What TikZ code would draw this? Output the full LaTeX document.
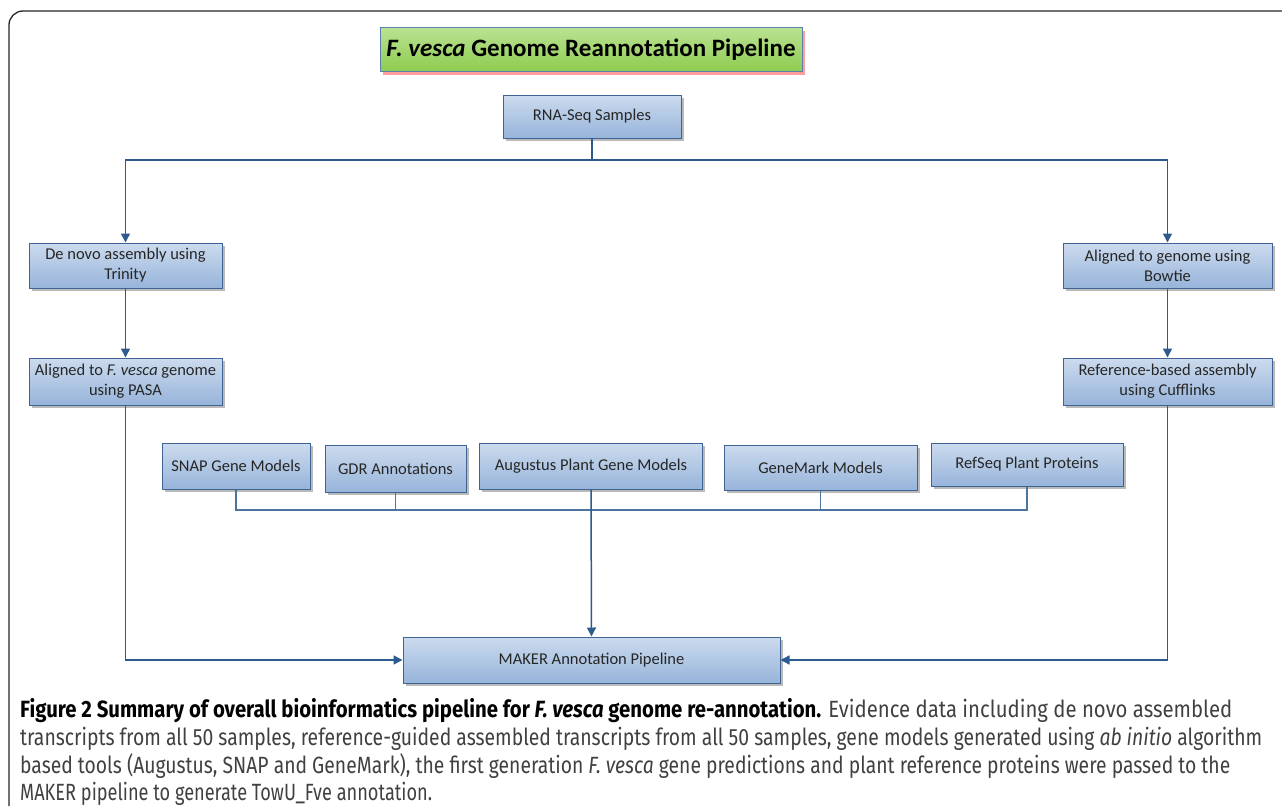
\documentclass[tikz,border=0pt]{standalone}
\usepackage{fontspec}
\setmainfont{Carlito}
\newfontfamily\capfont{Fira Sans}
\usetikzlibrary{arrows.meta,shadows}
\definecolor{boxtop}{HTML}{CCDBEE}
\definecolor{boxbot}{HTML}{97B4DA}
\definecolor{boxedge}{HTML}{3F6494}
\definecolor{conn}{HTML}{2E5B8E}
\definecolor{greentop}{HTML}{B9E291}
\definecolor{greenbot}{HTML}{8ECB4E}
\definecolor{titleedge}{HTML}{5B7FB3}
\definecolor{boxtext}{HTML}{262626}
\definecolor{captext}{HTML}{404040}
\tikzset{
  stepbox/.style={draw=boxedge, line width=1pt, top color=boxtop, bottom color=boxbot,
    drop shadow={shadow xshift=2.5pt, shadow yshift=-2.5pt, fill=black!45, opacity=0.6},
    text=boxtext, align=center, inner sep=2pt,
    font=\fontsize{16.5}{20}\selectfont},
  titlebox/.style={draw=titleedge, line width=1pt, top color=greentop, bottom color=greenbot,
    drop shadow={shadow xshift=3pt, shadow yshift=-3pt, fill=red!55, opacity=0.7},
    text=black, align=center, font=\fontsize{25}{28}\selectfont\bfseries},
  arr/.style={draw=conn, line width=1.5pt, -{Triangle[length=9pt,width=9pt]}},
  bus/.style={draw=conn!85, line width=1.1pt},
  capline/.style={anchor=west, inner sep=0pt, text=captext, font=\capfont\fontsize{23.5}{26}\selectfont}
}
\begin{document}
\begin{tikzpicture}[x=1pt,y=-1pt]
\useasboundingbox (0,0) rectangle (1282,808);
\draw[line width=1.3pt, black!85, rounded corners=14pt] (1282,11) -- (9,11) -- (9,806);

\node[titlebox, minimum width=422pt, minimum height=44pt] (title) at (591,50) {\textit{F. vesca} Genome Reannotation Pipeline};

\node[stepbox, minimum width=178pt, minimum height=43pt] (rna) at (592,116.5) {RNA-Seq Samples};

\node[stepbox, minimum width=193pt, minimum height=45pt] (denovo) at (125.5,265.5) {De novo assembly using\\Trinity};
\node[stepbox, minimum width=193pt, minimum height=47pt] (alignfv) at (125.5,381.5) {Aligned to \textit{F. vesca} genome\\using PASA};
\node[stepbox, minimum width=209pt, minimum height=45pt] (bowtie) at (1167.5,265.5) {Aligned to genome using\\Bowtie};
\node[stepbox, minimum width=209pt, minimum height=47pt] (cuff) at (1167.5,381.5) {Reference-based assembly\\using Cufflinks};

\node[stepbox, minimum width=148pt, minimum height=46pt] (snap) at (236,466) {SNAP Gene Models};
\node[stepbox, minimum width=141pt, minimum height=47pt] (gdr) at (395.5,468.5) {GDR Annotations};
\node[stepbox, minimum width=223pt, minimum height=46pt] (aug) at (591,466) {Augustus Plant Gene Models};
\node[stepbox, minimum width=193pt, minimum height=45pt] (gm) at (820.5,467.5) {GeneMark Models};
\node[stepbox, minimum width=192pt, minimum height=43pt] (ref) at (1027,464.5) {RefSeq Plant Proteins};

\node[stepbox, minimum width=377pt, minimum height=46pt] (maker) at (591.5,660) {MAKER Annotation Pipeline};

\coordinate (split) at (592,160);
\coordinate (busc) at (591,510);

\draw[conn, line width=1.5pt] (rna.south) -- (split);
\draw[arr] (split) -| (denovo.north);
\draw[arr] (split) -| (bowtie.north);
\draw[arr] (denovo.south) -- (alignfv.north);
\draw[arr] (bowtie.south) -- (cuff.north);

\draw[bus] (snap.south) |- (busc);
\draw[bus] (ref.south) |- (busc);
\draw[bus] (gdr.south) -- (gdr.south |- busc);
\draw[bus] (gm.south) -- (gm.south |- busc);
\draw[arr] (aug.south) -- (maker.north);

\draw[arr] (alignfv.south) |- (maker.west);
\draw[arr] (cuff.south) |- (maker.east);

\node[capline] (c1) at (20,711) {\resizebox{1212pt}{\height}{\textcolor{black}{\bfseries Figure 2 Summary of overall bioinformatics pipeline for \textit{F. vesca} genome re-annotation.} Evidence data including de novo assembled}};
\node[capline] (c2) at (20,738.5) {\resizebox{1242pt}{\height}{transcripts from all 50 samples, reference-guided assembled transcripts from all 50 samples, gene models generated using \textit{ab initio} algorithm}};
\node[capline] (c3) at (20,766) {\resizebox{1210pt}{\height}{based tools (Augustus, SNAP and GeneMark), the first generation \textit{F. vesca} gene predictions and plant reference proteins were passed to the}};
\node[capline] (c4) at (20,793.5) {\resizebox{412pt}{\height}{MAKER pipeline to generate TowU\_Fve annotation.}};
\end{tikzpicture}
\end{document}
